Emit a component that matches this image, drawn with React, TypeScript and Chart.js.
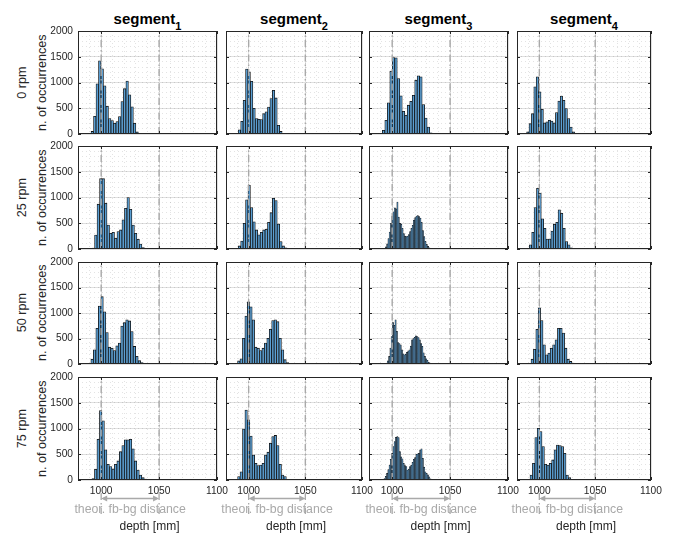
import React, { useEffect, useRef } from 'react';
import { Chart, registerables } from 'chart.js';

Chart.register(...registerables);

// ---------- data ----------
const SEGMENTS = ['1', '2', '3', '4'];
const SPEEDS = ['0 rpm', '25 rpm', '50 rpm', '75 rpm'];
const Y_LABEL = 'n. of occurrences';
const X_LABEL = 'depth [mm]';
const THEOR_LABEL = 'theor. fb-bg distance';

const X_MIN = 980;
const X_MAX = 1100;
const X_TICKS = [1000, 1050, 1100];
const X_MINOR = [990, 1000, 1010, 1020, 1030, 1040, 1050, 1060, 1070, 1080, 1090];
const Y_MIN = 0;
const Y_MAX = 2000;
const Y_TICKS = [0, 500, 1000, 1500, 2000];
const Y_MINOR = [100, 200, 300, 400, 500, 600, 700, 800, 900, 1000, 1100, 1200, 1300, 1400, 1500, 1600, 1700, 1800, 1900];
const THEOR = [1000, 1050];

// histogram counts per bin (row = speed, column = segment)
const seg1_0rpm = [15, 50, 345, 975, 1420, 1265, 935, 540, 300, 260, 210, 240, 340, 630, 880, 1030, 760, 530, 210, 40];
const seg2_0rpm = [10, 15, 80, 245, 655, 1260, 1205, 1025, 500, 300, 285, 280, 395, 430, 525, 690, 850, 700, 170, 50, 10, 5];
const seg3_0rpm = [10, 70, 265, 605, 1220, 1485, 1480, 1075, 740, 440, 365, 560, 635, 750, 1045, 1130, 1110, 570, 310, 135, 25];
const seg4_0rpm = [40, 200, 395, 915, 1110, 820, 480, 215, 235, 265, 250, 215, 415, 640, 735, 655, 495, 300, 135, 40, 15];

const seg1_25rpm = [20, 270, 870, 1365, 1365, 890, 465, 305, 325, 210, 340, 370, 565, 790, 1000, 770, 465, 305, 190, 95, 30];
const seg2_25rpm = [60, 155, 500, 955, 1235, 805, 530, 370, 275, 325, 370, 385, 520, 705, 985, 940, 485, 145, 60, 25];
const seg3_25rpm = [15, 40, 100, 200, 330, 500, 640, 720, 800, 780, 910, 620, 500, 480, 400, 300, 250, 240, 250, 280, 340, 400, 460, 560, 610, 640, 650, 630, 600, 520, 360, 240, 150, 90, 50, 25, 10];
const seg4_25rpm = [80, 325, 805, 1180, 1085, 585, 400, 195, 195, 350, 480, 520, 760, 695, 400, 145, 80, 25];

const seg1_50rpm = [95, 280, 700, 1135, 1320, 1025, 615, 330, 310, 265, 355, 410, 745, 810, 865, 845, 635, 345, 150, 65, 30];
const seg2_50rpm = [60, 100, 505, 940, 1220, 1120, 865, 330, 310, 265, 310, 410, 505, 680, 850, 865, 830, 505, 280, 85, 30];
const seg3_50rpm = [20, 60, 150, 310, 540, 810, 760, 865, 640, 420, 400, 375, 280, 200, 180, 190, 230, 260, 280, 350, 475, 500, 525, 550, 540, 520, 475, 400, 345, 220, 150, 100, 70, 35, 20, 8];
const seg4_50rpm = [95, 290, 680, 1100, 850, 375, 180, 215, 310, 375, 475, 700, 700, 605, 310, 95, 50, 20];

const seg1_75rpm = [30, 210, 790, 1350, 1150, 585, 305, 260, 215, 305, 370, 550, 670, 780, 780, 790, 605, 370, 195, 95, 45, 20];
const seg2_75rpm = [5, 5, 65, 160, 990, 1360, 1170, 855, 485, 325, 280, 290, 325, 485, 540, 715, 845, 865, 670, 305, 95, 65, 15];
const seg3_75rpm = [10, 30, 70, 130, 200, 290, 400, 520, 650, 745, 830, 845, 825, 550, 450, 410, 325, 280, 260, 195, 210, 260, 290, 345, 400, 435, 500, 510, 520, 585, 605, 420, 250, 160, 130, 100, 60, 25];
const seg4_75rpm = [95, 325, 825, 1005, 940, 650, 305, 290, 325, 390, 585, 680, 670, 650, 520, 95, 45];

const COUNTS = [
  [seg1_0rpm, seg2_0rpm, seg3_0rpm, seg4_0rpm],
  [seg1_25rpm, seg2_25rpm, seg3_25rpm, seg4_25rpm],
  [seg1_50rpm, seg2_50rpm, seg3_50rpm, seg4_50rpm],
  [seg1_75rpm, seg2_75rpm, seg3_75rpm, seg4_75rpm],
];
// left edge of first bin [mm]
const BIN_START = [
  [989.1, 986.5, 989.35, 988.6],
  [992.15, 990.8, 993.0, 991.0],
  [991.1, 990.2, 994.7, 992.55],
  [992.05, 985.95, 991.8, 991.65],
];
// bin width [mm]
const BIN_WIDTH = [
  [2.15, 2.15, 2.15, 2.15],
  [2.15, 2.15, 1.1, 2.15],
  [2.15, 2.15, 1.1, 2.15],
  [2.15, 2.15, 1.1, 2.15],
];

// ---------- layout / style ----------
const FONT = '"Liberation Sans", Arial, Helvetica, sans-serif';
const PANEL_LEFT = [78, 226, 369, 517];
const PANEL_WIDTH = [139, 136, 139, 134];
const PANEL_TOP = [31, 146, 262, 377];
const PANEL_HEIGHT = [103, 103, 102, 103];
const AX = 44; // space left of plot area (y tick labels)
const PAD_T = 10;
const PAD_R = 18;
const XB_BOTTOM = 55;
const XB_OTHER = 4;

const TEXT = '#262626';
const GRID = '#e0e0e0';
const MINOR = 'rgba(0,0,0,0.11)';
const THEOR_COLOR = '#a9a9a9';
const BAR_FILL = '#5b9fd3';
const BAR_EDGE = '#101010';

const framePlugin = {
  id: 'frame',
  afterDatasetsDraw(chart: any) {
    const { ctx, chartArea } = chart;
    const { left, top, right, bottom } = chartArea;
    ctx.save();
    ctx.strokeStyle = TEXT;
    ctx.lineWidth = 1;
    ctx.strokeRect(left + 0.5, top + 0.5, right - left - 1, bottom - top - 1);
    const ys = chart.scales.y;
    const xs = chart.scales.x;
    ctx.beginPath();
    Y_TICKS.forEach((v) => {
      const py = Math.round(ys.getPixelForValue(v)) + 0.5;
      ctx.moveTo(left, py);
      ctx.lineTo(left + 3, py);
      ctx.moveTo(right, py);
      ctx.lineTo(right - 3, py);
    });
    X_TICKS.forEach((v) => {
      const px = Math.round(xs.getPixelForValue(v)) + 0.5;
      ctx.moveTo(px, bottom);
      ctx.lineTo(px, bottom - 3);
      ctx.moveTo(px, top);
      ctx.lineTo(px, top + 3);
    });
    ctx.stroke();
    ctx.restore();
  },
};

const annotationPlugin = {
  id: 'theorAnnotation',
  afterDraw(chart: any) {
    const { ctx, chartArea } = chart;
    const xs = chart.scales.x;
    const b = chartArea.bottom;
    const x1 = xs.getPixelForValue(THEOR[0]);
    const x2 = xs.getPixelForValue(THEOR[1]);
    const ay = b + 18.5;
    ctx.save();
    ctx.strokeStyle = THEOR_COLOR;
    ctx.lineWidth = 1.3;
    ctx.setLineDash([7, 3, 1.5, 3]);
    [x1, x2].forEach((px) => {
      ctx.beginPath();
      ctx.moveTo(px, b + 13);
      ctx.lineTo(px, b + 34);
      ctx.stroke();
    });
    ctx.setLineDash([]);
    ctx.lineWidth = 1.3;
    ctx.beginPath();
    ctx.moveTo(x1 + 2, ay);
    ctx.lineTo(x2 - 2, ay);
    ctx.stroke();
    ctx.fillStyle = THEOR_COLOR;
    ctx.beginPath();
    ctx.moveTo(x1, ay);
    ctx.lineTo(x1 + 6, ay - 3);
    ctx.lineTo(x1 + 6, ay + 3);
    ctx.closePath();
    ctx.fill();
    ctx.beginPath();
    ctx.moveTo(x2, ay);
    ctx.lineTo(x2 - 6, ay - 3);
    ctx.lineTo(x2 - 6, ay + 3);
    ctx.closePath();
    ctx.fill();
    ctx.textAlign = 'center';
    ctx.textBaseline = 'middle';
    ctx.font = `12.3px ${FONT}`;
    ctx.fillText(THEOR_LABEL, (x1 + x2) / 2, b + 29.5);
    ctx.fillStyle = TEXT;
    ctx.font = `12px ${FONT}`;
    ctx.fillText(X_LABEL, (chartArea.left + chartArea.right) / 2 + 2, b + 47);
    ctx.restore();
  },
};

function Panel({ row, col }: { row: number; col: number }) {
  const ref = useRef<HTMLCanvasElement>(null);
  const isBottom = row === SPEEDS.length - 1;
  const isLeft = col === 0;
  const xb = isBottom ? XB_BOTTOM : XB_OTHER;
  const w = AX + PANEL_WIDTH[col] + PAD_R;
  const h = PAD_T + PANEL_HEIGHT[row] + xb;

  useEffect(() => {
    const counts = COUNTS[row][col];
    const start = BIN_START[row][col];
    const bw = BIN_WIDTH[row][col];
    const fine = bw < 2;
    const bars = counts.map((c, i) => ({ x: start + (i + 0.5) * bw, y: c }));
    const theorLine = (v: number) => ({
      type: 'line',
      data: [
        { x: v, y: Y_MIN },
        { x: v, y: Y_MAX },
      ],
      borderColor: THEOR_COLOR,
      borderWidth: 1.4,
      borderDash: [7, 3, 1.5, 3],
      pointRadius: 0,
      fill: false,
      xAxisID: 'x',
      yAxisID: 'y',
      order: 0,
    });
    const tickFont = { family: FONT, size: 10.2 };
    const chart = new Chart(ref.current as HTMLCanvasElement, {
      type: 'bar',
      data: {
        datasets: [
          theorLine(THEOR[0]) as any,
          theorLine(THEOR[1]) as any,
          {
            type: 'bar',
            data: bars as any,
            backgroundColor: fine ? '#3d6f96' : BAR_FILL,
            borderColor: BAR_EDGE,
            borderWidth: fine ? 0.5 : 0.8,
            barPercentage: 1,
            categoryPercentage: 1,
            xAxisID: 'x',
            yAxisID: 'y',
            order: 1,
          },
        ],
      },
      options: {
        animation: false,
        responsive: false,
        events: [],
        layout: { padding: { top: PAD_T, right: PAD_R, left: 0, bottom: 0 } },
        plugins: { legend: { display: false }, tooltip: { enabled: false }, title: { display: false } },
        scales: {
          x: {
            type: 'linear',
            min: X_MIN,
            max: X_MAX,
            offset: false,
            position: 'bottom',
            afterBuildTicks: (s: any) => {
              s.ticks = X_TICKS.map((v) => ({ value: v }));
            },
            afterFit: (s: any) => {
              s.height = xb;
              s.paddingLeft = 0;
              s.paddingRight = 0;
            },
            grid: { color: GRID, lineWidth: 1, drawTicks: false, offset: false },
            border: { display: false },
            ticks: {
              display: isBottom,
              padding: 5,
              color: TEXT,
              font: tickFont,
              maxRotation: 0,
              autoSkip: false,
              callback: (v: any) => String(v),
            },
          },
          xm: {
            type: 'linear',
            min: X_MIN,
            max: X_MAX,
            offset: false,
            position: 'bottom',
            afterBuildTicks: (s: any) => {
              s.ticks = X_MINOR.map((v) => ({ value: v }));
            },
            afterFit: (s: any) => {
              s.height = 0;
              s.paddingLeft = 0;
              s.paddingRight = 0;
            },
            grid: { color: MINOR, lineWidth: 1, drawTicks: false, offset: false },
            border: { display: false, dash: [1, 3] },
            ticks: { display: false },
          },
          y: {
            type: 'linear',
            min: Y_MIN,
            max: Y_MAX,
            position: 'left',
            afterBuildTicks: (s: any) => {
              s.ticks = Y_TICKS.map((v) => ({ value: v }));
            },
            afterFit: (s: any) => {
              s.width = AX;
              s.paddingTop = 0;
              s.paddingBottom = 0;
            },
            grid: { color: GRID, lineWidth: 1, drawTicks: false },
            border: { display: false },
            ticks: {
              display: isLeft,
              padding: 5,
              color: TEXT,
              font: tickFont,
              callback: (v: any) => String(v),
            },
          },
          ym: {
            type: 'linear',
            min: Y_MIN,
            max: Y_MAX,
            position: 'left',
            afterBuildTicks: (s: any) => {
              s.ticks = Y_MINOR.map((v) => ({ value: v }));
            },
            afterFit: (s: any) => {
              s.width = 0;
              s.paddingTop = 0;
              s.paddingBottom = 0;
            },
            grid: { color: MINOR, lineWidth: 1, drawTicks: false },
            border: { display: false, dash: [1, 3] },
            ticks: { display: false },
          },
        },
      } as any,
      plugins: isBottom ? [framePlugin, annotationPlugin] : [framePlugin],
    });
    return () => chart.destroy();
  }, [row, col]);

  return (
    <canvas
      ref={ref}
      width={w}
      height={h}
      style={{
        position: 'absolute',
        left: PANEL_LEFT[col] - AX,
        top: PANEL_TOP[row] - PAD_T,
        width: w,
        height: h,
      }}
    />
  );
}

export default function App() {
  return (
    <div
      style={{
        position: 'absolute',
        left: 0,
        top: 0,
        width: 684,
        height: 536,
        overflow: 'hidden',
        background: '#ffffff',
        fontFamily: FONT,
      }}
    >
      {SEGMENTS.map((s, c) => (
        <div
          key={'t' + c}
          style={{
            position: 'absolute',
            left: PANEL_LEFT[c],
            width: PANEL_WIDTH[c],
            top: 10,
            height: 20,
            lineHeight: '17px',
            textAlign: 'center',
            fontWeight: 'bold',
            fontSize: 15,
            color: '#000',
            whiteSpace: 'nowrap',
          }}
        >
          segment
          <span style={{ fontSize: 11, verticalAlign: -6 }}>{s}</span>
        </div>
      ))}
      {SPEEDS.map((sp, r) => {
        const cy = PANEL_TOP[r] + PANEL_HEIGHT[r] / 2;
        const cx = 33;
        return (
          <div
            key={'r' + r}
            style={{
              position: 'absolute',
              left: cx - 70,
              top: cy - 19.7,
              width: 140,
              height: 39.4,
              transform: 'rotate(-90deg)',
              transformOrigin: '50% 50%',
              textAlign: 'center',
              fontSize: 12.6,
              lineHeight: '19.7px',
              color: TEXT,
              whiteSpace: 'nowrap',
            }}
          >
            <div>{sp}</div>
            <div>{Y_LABEL}</div>
          </div>
        );
      })}
      {SPEEDS.map((_, r) =>
        SEGMENTS.map((__, c) => <Panel key={r + '-' + c} row={r} col={c} />)
      )}
    </div>
  );
}
